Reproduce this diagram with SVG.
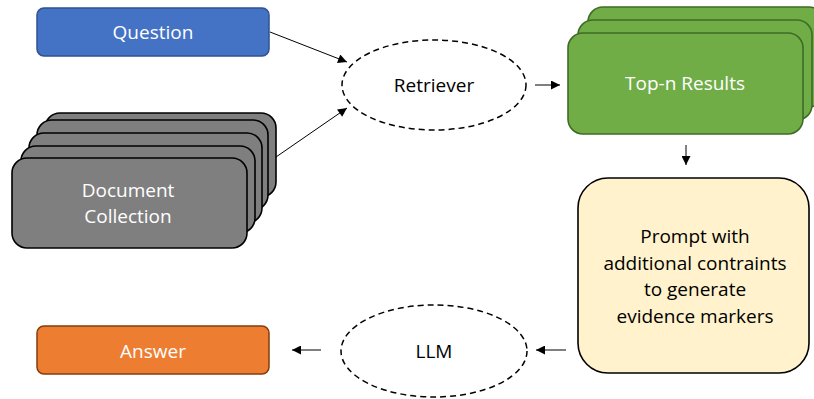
<svg xmlns="http://www.w3.org/2000/svg" width="814" height="399" viewBox="0 0 814 399">
<defs>
<marker id="ah" viewBox="0 0 10 10" refX="10" refY="5" markerWidth="10" markerHeight="9" markerUnits="userSpaceOnUse" orient="auto">
<path d="M0,0 L10,5 L0,10 z" fill="#000"/>
</marker>
<style>
text{font-family:"Open Sans","Liberation Sans",sans-serif;font-size:19px;text-anchor:middle}
.w{fill:#fff}
.k{fill:#000}
.doc{fill:#7f7f7f;stroke:#000;stroke-width:1.6}
.grn{fill:#70ad47;stroke:#3f6b26;stroke-width:1.6}
.ell{fill:#fff;stroke:#000;stroke-width:1.5;stroke-dasharray:6 4}
.con{stroke:#000;stroke-width:1;fill:none;marker-end:url(#ah)}
</style>
</defs>
<rect width="814" height="399" fill="#fff"/>
<g id="question">
<rect x="37" y="8" width="232" height="48" rx="7" fill="#4472c4" stroke="#2f528f" stroke-width="1.5"/>
<text x="153" y="39" class="w">Question</text>
</g>
<g id="documents">
<rect class="doc" x="45" y="113" width="231" height="84" rx="15"/>
<rect class="doc" x="37" y="120" width="231" height="90" rx="15"/>
<rect class="doc" x="29" y="133" width="233" height="90" rx="15"/>
<rect class="doc" x="21" y="146" width="234" height="87" rx="15"/>
<rect class="doc" x="12" y="158" width="235" height="90" rx="15"/>
<text x="128" y="197" class="w">Document</text>
<text x="128" y="223" class="w">Collection</text>
</g>
<g id="retriever">
<ellipse class="ell" cx="434" cy="85" rx="92" ry="45"/>
<text x="434" y="92" class="k">Retriever</text>
</g>
<g id="topn">
<rect class="grn" x="588" y="7" width="236" height="100" rx="15"/>
<rect class="grn" x="578" y="20" width="234" height="100" rx="15"/>
<rect class="grn" x="568" y="33" width="235" height="101" rx="15"/>
<text x="685" y="90" class="w">Top-n Results</text>
</g>
<g id="prompt">
<rect x="578" y="178" width="231" height="195" rx="30" fill="#fff2cc" stroke="#000" stroke-width="1.6"/>
<text x="695" y="243" class="k">Prompt with</text>
<text x="695" y="270" class="k">additional contraints</text>
<text x="695" y="296" class="k">to generate</text>
<text x="695" y="323" class="k">evidence markers</text>
</g>
<g id="llm">
<ellipse class="ell" cx="434" cy="351" rx="93" ry="46"/>
<text x="434" y="358" class="k">LLM</text>
</g>
<g id="answer">
<rect x="37" y="326" width="232" height="48" rx="7" fill="#ed7d31" stroke="#843c0c" stroke-width="1.5"/>
<text x="153" y="358" class="w">Answer</text>
</g>
<g id="connectors">
<line class="con" x1="270" y1="32" x2="347" y2="62"/>
<line class="con" x1="276" y1="157" x2="347" y2="108"/>
<line class="con" x1="535" y1="85" x2="560" y2="85"/>
<line class="con" x1="686" y1="145" x2="686" y2="165"/>
<line class="con" x1="566" y1="350" x2="536" y2="350"/>
<line class="con" x1="321" y1="350" x2="292" y2="350"/>
</g>
</svg>
